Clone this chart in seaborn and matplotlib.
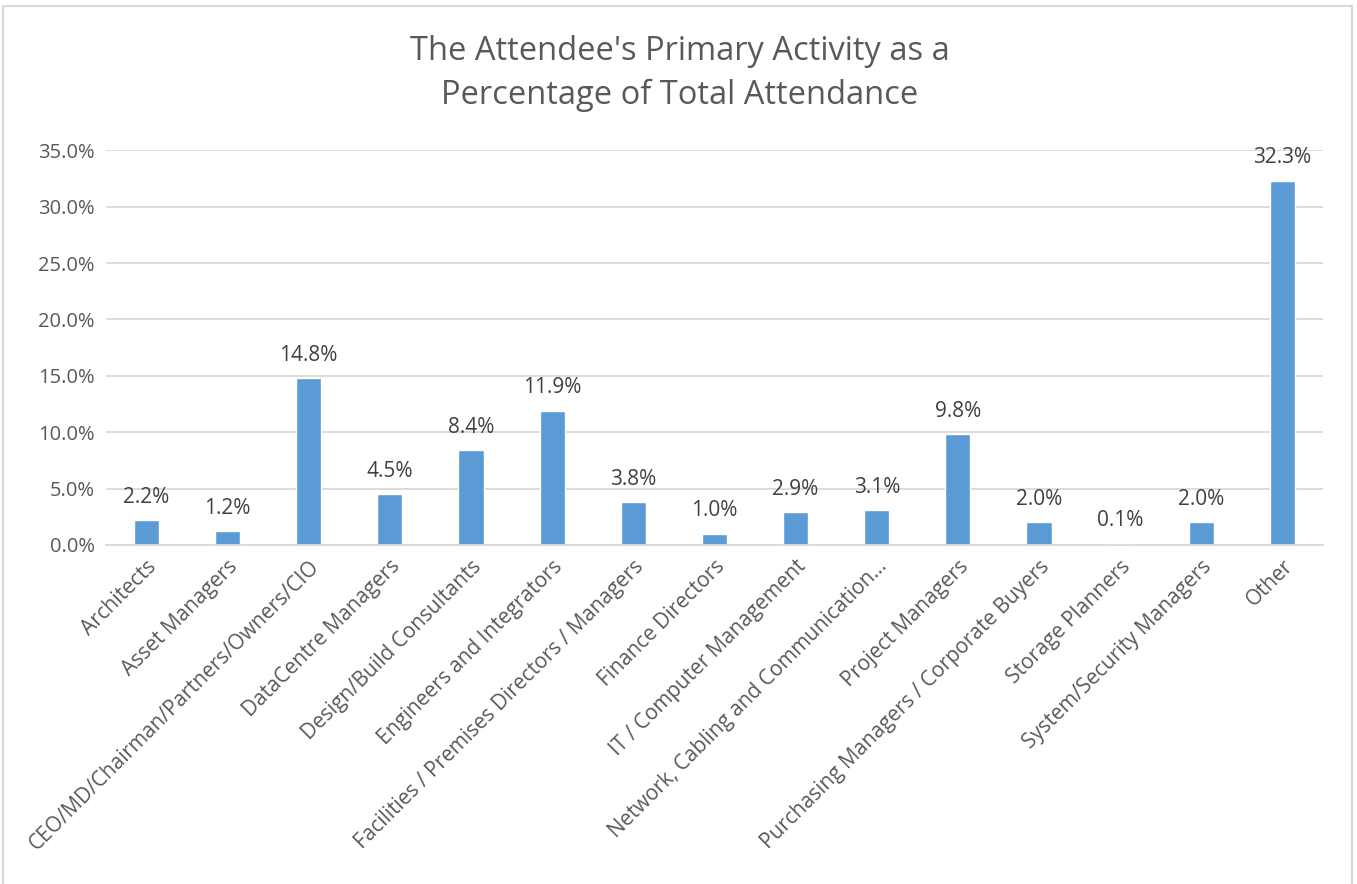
import numpy as np
import pandas as pd
import seaborn as sns
import matplotlib.pyplot as plt
from matplotlib.patches import Rectangle
from matplotlib.ticker import FuncFormatter

categories = ["Architects", "Asset Managers", "CEO/MD/Chairman/Partners/Owners/CIO",
              "DataCentre Managers", "Design/Build Consultants", "Engineers and Integrators",
              "Facilities / Premises Directors / Managers", "Finance Directors",
              "IT / Computer Management", "Network, Cabling and Communication...",
              "Project Managers", "Purchasing Managers / Corporate Buyers",
              "Storage Planners", "System/Security Managers", "Other"]
values = [2.2, 1.2, 14.8, 4.5, 8.4, 11.9, 3.8, 1.0, 2.9, 3.1, 9.8, 2.0, 0.1, 2.0, 32.3]

df = pd.DataFrame({"activity": categories, "pct": values})

sns.set_style("white")
plt.rcParams['font.family'] = ['Open Sans', 'DejaVu Sans']

fig = plt.figure(figsize=(13.57, 8.84), dpi=100)
ax = fig.add_axes([0.078, 0.3835, 0.897, 0.4465])

sns.barplot(data=df, x="activity", y="pct", color="#5B9BD5", saturation=1, width=0.31, ax=ax)

ax.set_ylim(0, 35)
ax.set_yticks(np.arange(0, 35.1, 5))
ax.yaxis.set_major_formatter(FuncFormatter(lambda v, p: f"{v:.1f}%"))
ax.grid(axis='y', color='#D9D9D9', linewidth=1.3)
ax.set_axisbelow(True)
for s in ["top", "right", "left"]:
    ax.spines[s].set_visible(False)
ax.spines["bottom"].set_color('#D9D9D9')
ax.spines["bottom"].set_linewidth(1.3)
ax.tick_params(axis='both', length=0, colors='#595959', pad=8)
ax.tick_params(axis='x', labelsize=15)
ax.tick_params(axis='y', labelsize=14.5)
ax.set_xlabel("")
ax.set_ylabel("")
plt.setp(ax.get_xticklabels(), rotation=45, ha='right', rotation_mode='anchor')

for i, v in enumerate(values):
    ax.annotate(f"{v:.1f}%", (i, v), xytext=(0, 9), textcoords='offset points',
                ha='center', va='bottom', fontsize=15, color='#404040')

fig.text(0.501, 0.917, "The Attendee's Primary Activity as a\nPercentage of Total Attendance",
         ha='center', va='center', fontsize=23.5, color='#595959', linespacing=1.45)

fig.patches.append(Rectangle((3 / 1357, -0.01), 1349 / 1357, 1 - 6 / 884 + 0.01,
                             transform=fig.transFigure, fill=False,
                             edgecolor='#D9D9D9', linewidth=1.5))

fig.savefig("out.png", dpi=100)
